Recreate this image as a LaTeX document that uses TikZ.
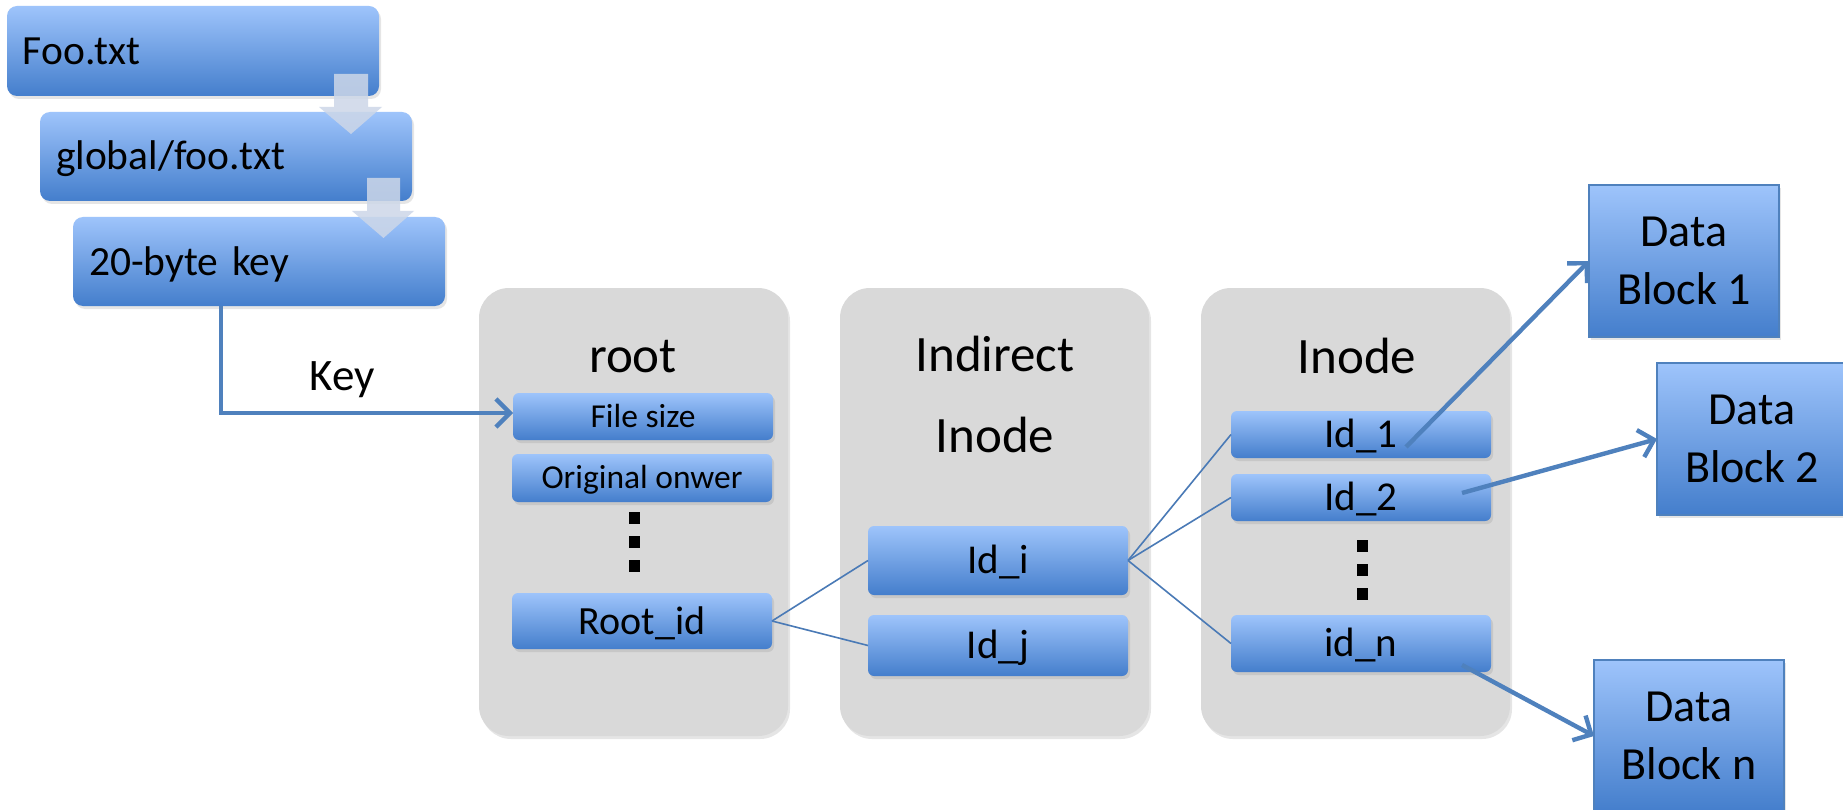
\documentclass[tikz,border=0pt]{standalone}
\usepackage{fontspec}
\setmainfont{Carlito}
\usetikzlibrary{arrows.meta,calc,shadows}
\definecolor{bluetop}{RGB}{158,196,251}
\definecolor{bluebot}{RGB}{68,126,204}
\definecolor{linkblue}{RGB}{79,129,189}
\definecolor{thinblue}{RGB}{74,122,182}
\definecolor{panelgray}{RGB}{217,217,217}
\definecolor{chevroncol}{RGB}{205,215,232}
\newcommand{\fsz}[1]{\fontsize{#1}{#1}\selectfont}
\begin{document}
\begin{tikzpicture}[x=1pt,y=-1pt,
  shadowed/.style={drop shadow={shadow xshift=2pt,shadow yshift=-3pt,opacity=0.2}},
  bluebase/.style={top color=bluetop,bottom color=bluebot,draw=none,outer sep=0pt,
    anchor=north west,text=black,shadowed},
  stepbox/.style={bluebase,rounded corners=10pt,inner xsep=16pt,inner ysep=0pt,
    text width=340pt,align=left,font=\fsz{41.5},text height=27pt,text depth=0pt},
  itembox/.style={bluebase,rounded corners=6pt,inner sep=0pt,minimum width=260pt,
    align=center,text depth=0pt},
  smalltxt/.style={font=\fsz{33.5},text height=21.5pt},
  idtxt/.style={font=\fsz{41},text height=26.5pt},
  panel/.style={fill=panelgray,rounded corners=30pt,draw=none,inner sep=0pt,outer sep=0pt,
    minimum width=309pt,minimum height=448pt,anchor=north west,shadowed},
  title/.style={anchor=base,font=\fsz{51},inner sep=0pt},
  datablock/.style={bluebase,draw=linkblue,line width=1.5pt,inner sep=0pt,
    minimum width=190pt,minimum height=152pt,align=center,font=\fontsize{46}{58}\selectfont},
  link/.style={draw=linkblue,line width=4.4pt,-{Straight Barb[length=14pt,width=28pt]}},
  thinlink/.style={draw=thinblue,line width=1.6pt},
  chevron/.style={fill=chevroncol,fill opacity=0.85,draw=none}
]
\fill[white] (0,0) rectangle (1843,810);
\useasboundingbox (0,0) rectangle (1843,810);

% left chain
\node[stepbox,minimum height=90pt] (foo) at (7,6) {Foo.txt};
\node[stepbox,minimum height=89pt] (glob) at (40,112) {global/foo.txt};
\node[stepbox,minimum height=89pt] (key20) at (73,217) {20-byte key};
\fill[chevron] (334,74) -- (368,74) -- (368,107) -- (382,107) -- (351,134) -- (319,107) -- (334,107) -- cycle;
\fill[chevron] (367,178) -- (400,178) -- (400,211) -- (414,211) -- (383.5,238) -- (352,211) -- (367,211) -- cycle;

% panels
\node[panel] (rootP) at (479,288) {};
\node[panel] (indP) at (840,288) {};
\node[panel] (inodeP) at (1201,288) {};

\node[title] (rootT) at (633,372) {root};
\node[title] (indT1) at (995,371) {Indirect};
\node[title] (indT2) at (995,452) {Inode};
\node[title] (inodeT) at (1357,373) {Inode};

% root items
\node[itembox,smalltxt,minimum height=47pt] (fsize) at (513,393) {File size};
\node[itembox,smalltxt,minimum height=48pt] (owner) at (512,454) {Original onwer};
\node[itembox,font=\fsz{40},text height=26pt,minimum height=56pt] (rootid) at (512,593) {Root\_id};
\fill (629,512) rectangle (640,524);
\fill (629,536) rectangle (640,548);
\fill (629,560) rectangle (640,572);

% indirect items
\node[itembox,idtxt,minimum height=69pt] (idi) at (868,526) {Id\_i};
\node[itembox,idtxt,minimum height=61pt] (idj) at (868,615) {Id\_j};

% inode items
\node[itembox,idtxt,minimum height=47pt] (id1) at (1231,411) {Id\_1};
\node[itembox,idtxt,minimum height=47pt] (id2) at (1231,474) {Id\_2};
\node[itembox,idtxt,minimum height=57pt] (idn) at (1231,615) {id\_n};
\fill (1357,540) rectangle (1368,552);
\fill (1357,564) rectangle (1368,576);
\fill (1357,588) rectangle (1368,600);

% data blocks
\node[datablock] (db1) at (1589,185) {Data\\Block 1};
\node[datablock] (db2) at (1657,363) {Data\\Block 2};
\node[datablock] (dbn) at (1594,660) {Data\\Block n};

% key connector
\node[anchor=base,font=\fsz{45},inner sep=0pt] (keyL) at (342,390) {Key};
\coordinate (keyin) at ($(fsize.west)+(0,-3.5)$);
\draw[link] ($(key20.south west)+(148,0)$) |- (keyin);

% thin connectors
\draw[thinlink] (rootid.east) -- (idi.west);
\draw[thinlink] (rootid.east) -- (idj.west);
\draw[thinlink] (idi.east) -- (id1.west);
\draw[thinlink] (idi.east) -- (id2.west);
\draw[thinlink] (idi.east) -- (idn.west);

% thick arrows to data blocks
\coordinate (s1) at (1406,447);
\coordinate (s2) at (1462,493);
\coordinate (sn) at (1462,665);
\draw[link] (s1) -- (db1.west);
\draw[link] (s2) -- (db2.west);
\draw[link] (sn) -- (dbn.west);
\end{tikzpicture}
\end{document}
